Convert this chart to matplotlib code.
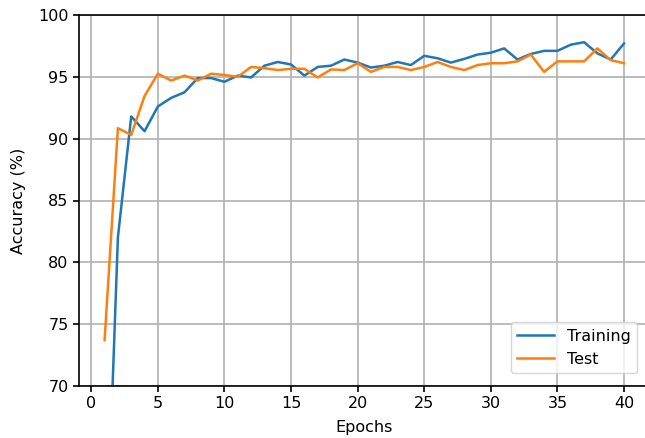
import numpy as np
import matplotlib
matplotlib.use("Agg")
import matplotlib.pyplot as plt

# accuracy per epoch
epochs = np.arange(1, 41)
train_acc = [52.0, 82.0, 91.8, 90.6, 92.6, 93.3, 93.75, 94.9, 94.9, 94.6,
             95.1, 94.95, 95.9, 96.2, 96.0, 95.1, 95.8, 95.9, 96.4, 96.15,
             95.75, 95.9, 96.2, 95.95, 96.7, 96.5, 96.15, 96.45, 96.8, 96.95,
             97.3, 96.4, 96.85, 97.1, 97.1, 97.6, 97.8, 96.9, 96.4, 97.7]
test_acc = [73.7, 90.85, 90.3, 93.45, 95.25, 94.7, 95.1, 94.7, 95.25, 95.15,
            95.0, 95.8, 95.7, 95.55, 95.65, 95.65, 94.95, 95.6, 95.55, 96.1,
            95.4, 95.8, 95.8, 95.55, 95.8, 96.2, 95.8, 95.55, 95.95, 96.1,
            96.1, 96.25, 96.8, 95.4, 96.25, 96.25, 96.25, 97.3, 96.35, 96.1]

fs = 11.5
fig = plt.figure(figsize=(6.45, 4.38), dpi=100)
# the reference is cropped on the right, so the axes run past the figure edge
ax = fig.add_axes([79/645, 1 - 386/438, 571/645, 371/438])

ax.plot(epochs, train_acc, color='#1f77b4', lw=1.8, label="Training")
ax.plot(epochs, test_acc, color='#ff7f0e', lw=1.8, label="Test")

ax.set_ylim(70, 100)
ax.set_xlim(-0.92, 41.95)
ax.set_xticks(np.arange(0, 41, 5))
ax.set_yticks(np.arange(70, 101, 5))
ax.grid(True, color='#b0b0b0', lw=1.2)
ax.set_axisbelow(True)
ax.tick_params(labelsize=fs, width=1.2, length=4)
for s in ax.spines.values():
    s.set_linewidth(1.2)

ax.set_xlabel("Epochs", fontsize=fs, labelpad=6)
ax.set_ylabel("Accuracy (%)", fontsize=fs, labelpad=9)
ax.legend(loc='lower right', fontsize=fs, handlelength=2.3, borderaxespad=0.8)

fig.savefig("out.png", dpi=100)
